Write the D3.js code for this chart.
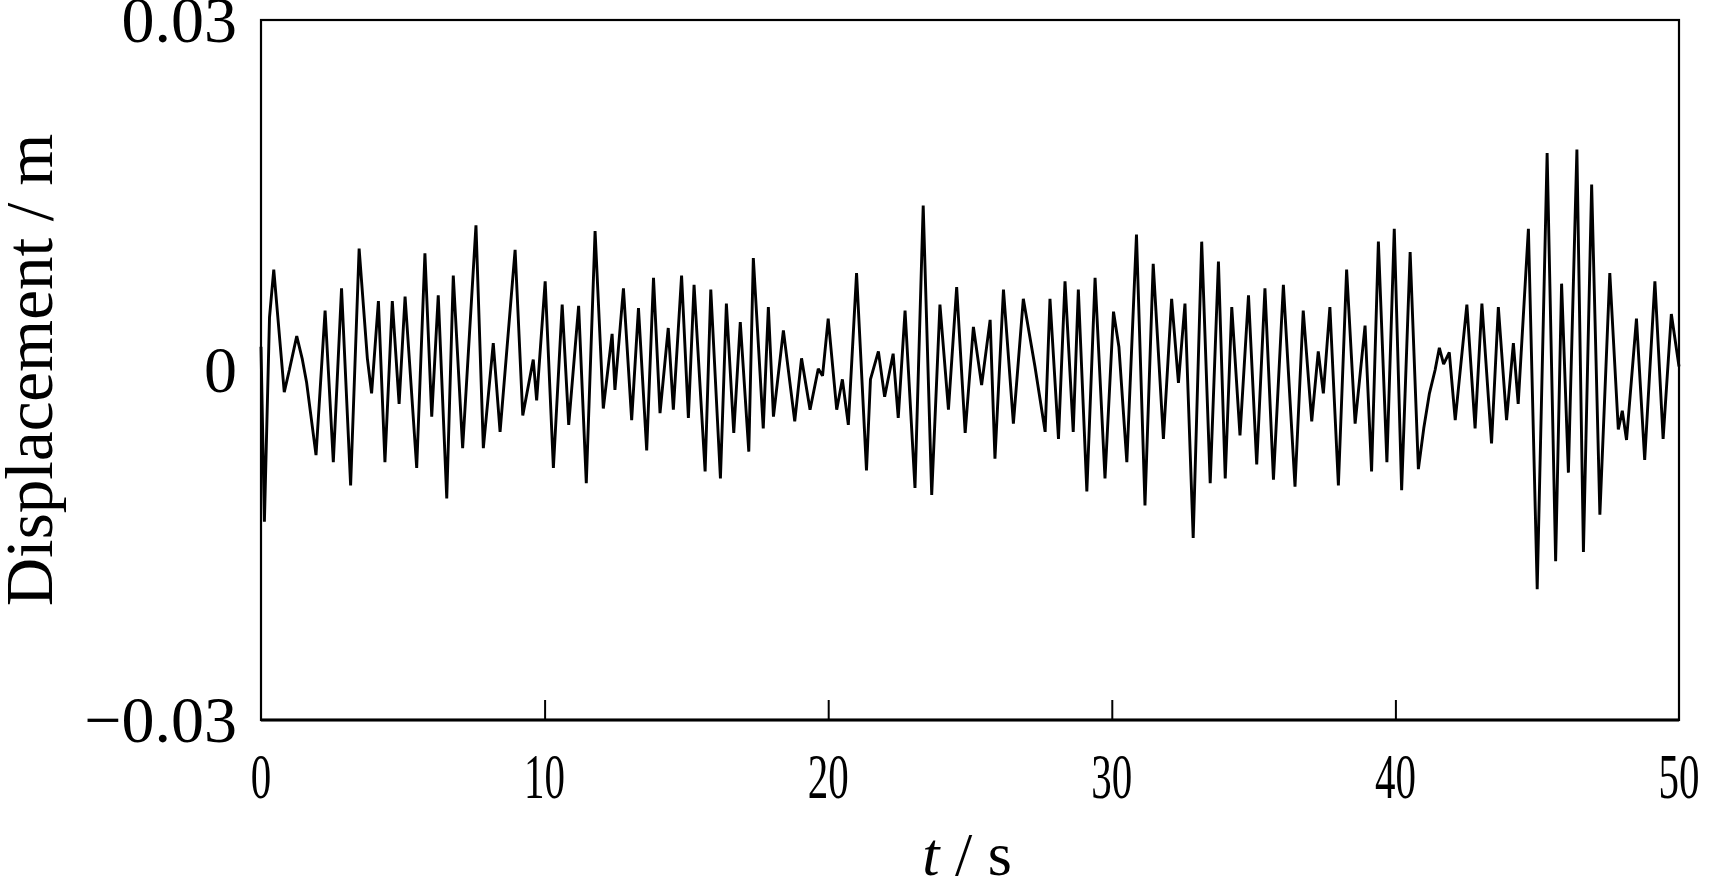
<!DOCTYPE html>
<html><head><meta charset="utf-8">
<script src="https://cdn.jsdelivr.net/npm/d3@7"></script>
<style>html,body{margin:0;padding:0;background:#fff;overflow:hidden}</style>
</head><body><svg id="chart" width="1715" height="879"></svg>
<script>
// time (s) of each read extremum / kink of the displacement trace
const timeS = [
 0.00,0.12,0.30,0.45,0.82,1.00,1.26,1.45,1.61,1.94,2.26,2.55,2.84,3.16,3.46,3.75,3.90,4.14,4.37,4.63,4.87,5.08,
 5.49,5.78,6.02,6.25,6.55,6.78,7.11,7.58,7.84,8.19,8.43,8.96,9.23,9.60,9.72,10.02,
 10.31,10.62,10.85,11.20,11.47,11.78,12.07,12.38,12.48,12.78,13.07,13.31,13.60,13.84,14.07,14.36,14.54,14.83,15.07,15.27,
 15.66,15.86,16.20,16.41,16.67,16.90,17.20,17.36,17.71,17.89,18.07,18.42,18.82,19.06,19.36,19.65,19.80,20.00,20.30,
 20.50,20.71,21.00,21.35,21.49,21.77,21.99,22.29,22.47,22.71,23.06,23.35,23.65,23.94,24.24,24.53,24.83,25.12,25.41,
 25.71,25.88,26.18,26.53,26.88,27.29,27.65,27.82,28.12,28.35,28.64,28.82,29.12,29.41,29.76,30.06,30.25,30.53,
 30.87,31.17,31.46,31.82,32.11,32.35,32.58,32.87,33.17,33.47,33.76,34.00,34.23,34.52,34.82,35.11,35.40,35.70,
 36.05,36.46,36.75,37.05,37.28,37.46,37.69,37.99,38.28,38.58,38.93,39.16,39.40,39.70,39.96,40.22,40.52,40.81,
 41.00,41.20,41.40,41.55,41.70,41.90,42.11,42.52,42.81,43.05,43.39,43.63,43.92,44.16,44.33,44.69,45.00,45.35,45.65,
 45.86,46.10,46.40,46.63,46.92,47.21,47.56,47.86,48.00,48.15,48.50,48.79,49.15,49.44,49.73,50.00
];
// displacement (m) at those times
const displacement = [
 0.0020,-0.0130,0.0045,0.0086,-0.0019,0.0000,0.0029,0.0010,-0.0011,-0.0073,0.0051,-0.0079,0.0070,-0.0099,0.0104,0.0010,-0.0020,0.0059,-0.0079,0.0059,-0.0029,0.0063,
 -0.0084,0.0100,-0.0040,0.0064,-0.0110,0.0081,-0.0067,0.0124,-0.0067,0.0023,-0.0053,0.0103,-0.0039,0.0009,-0.0026,0.0076,
 -0.0084,0.0056,-0.0047,0.0055,-0.0097,0.0119,-0.0033,0.0031,-0.0017,0.0070,-0.0043,0.0053,-0.0069,0.0079,-0.0037,0.0036,-0.0034,0.0081,-0.0041,0.0073,
 -0.0087,0.0069,-0.0093,0.0057,-0.0054,0.0041,-0.0070,0.0096,-0.0050,0.0054,-0.0040,0.0034,-0.0044,0.0010,-0.0034,0.0001,-0.0005,0.0044,-0.0034,
 -0.0008,-0.0047,0.0083,-0.0086,-0.0008,0.0016,-0.0023,0.0014,-0.0041,0.0051,-0.0101,0.0141,-0.0107,0.0056,-0.0034,0.0071,-0.0054,0.0037,-0.0013,
 0.0043,-0.0076,0.0069,-0.0046,0.0061,0.0003,-0.0053,0.0061,-0.0059,0.0076,-0.0053,0.0069,-0.0104,0.0079,-0.0093,0.0050,0.0020,-0.0079,
 0.0116,-0.0116,0.0091,-0.0059,0.0061,-0.0011,0.0057,-0.0144,0.0110,-0.0097,0.0093,-0.0093,0.0054,-0.0056,0.0064,-0.0081,0.0070,-0.0094,
 0.0073,-0.0100,0.0051,-0.0044,0.0016,-0.0020,0.0054,-0.0099,0.0086,-0.0046,0.0038,-0.0087,0.0110,-0.0079,0.0121,-0.0103,0.0101,-0.0085,
 -0.0050,-0.0020,0.0000,0.0019,0.0005,0.0015,-0.0043,0.0056,-0.0050,0.0057,-0.0063,0.0054,-0.0043,0.0023,-0.0029,0.0121,-0.0188,0.0186,-0.0164,
 0.0074,-0.0088,0.0189,-0.0156,0.0159,-0.0124,0.0083,-0.0051,-0.0035,-0.0060,0.0044,-0.0077,0.0076,-0.0059,0.0048,0.0003
];
const xTickValues = [0, 10, 20, 30, 40, 50];
const xTickLabels = ["0", "10", "20", "30", "40", "50"];
const yTickValues = [0.03, 0, -0.03];
const yTickLabels = ["0.03", "0", "\u22120.03"];
const xTitleItalic = "t";
const xTitleRest = " / s";
const yTitle = "Displacement / m";

const svg = d3.select("#chart");
svg.append("rect").attr("width", 1715).attr("height", 879).attr("fill", "#fff");

const x = d3.scaleLinear().domain([0, 50]).range([261, 1679]);
const y = d3.scaleLinear().domain([-0.03, 0.03]).range([720, 20]);
const font = "'Liberation Serif','Times New Roman',serif";

// signal
const data = timeS.map((t, i) => [t, displacement[i]]);
svg.append("path")
  .datum(data)
  .attr("fill", "none")
  .attr("stroke", "#000")
  .attr("stroke-width", 2.9)
  .attr("stroke-linejoin", "bevel")
  .attr("d", d3.line().x(d => x(d[0])).y(d => y(d[1])));

// x ticks (inside)
const xAxis = d3.axisBottom(x).tickValues(xTickValues.slice(1, -1)).tickSize(-20).tickFormat("");
const gx = svg.append("g").attr("transform", "translate(0,720)").call(xAxis);
gx.select(".domain").remove();
gx.selectAll(".tick line").attr("stroke", "#000").attr("stroke-width", 2);

// frame
svg.append("rect")
  .attr("x", x(0)).attr("y", y(0.03))
  .attr("width", x(50) - x(0)).attr("height", y(-0.03) - y(0.03))
  .attr("fill", "none").attr("stroke", "#000").attr("stroke-width", 2.2);
svg.append("line")
  .attr("x1", x(0)).attr("x2", x(50)).attr("y1", y(-0.03)).attr("y2", y(-0.03))
  .attr("stroke", "#000").attr("stroke-width", 3.2);

// x tick labels (condensed)
svg.append("g").selectAll("text").data(xTickValues).join("text")
  .attr("transform", d => `translate(${x(d)},798) scale(0.64,1)`)
  .attr("text-anchor", "middle")
  .attr("font-family", font).attr("font-size", 64)
  .text((d, i) => xTickLabels[i]);

// y tick labels
svg.append("g").selectAll("text").data(yTickValues).join("text")
  .attr("x", 237)
  .attr("y", d => y(d) + 22)
  .attr("text-anchor", "end")
  .attr("font-family", font).attr("font-size", 66)
  .text((d, i) => yTickLabels[i]);

// x title
const xt = svg.append("text")
  .attr("x", 967).attr("y", 875)
  .attr("text-anchor", "middle")
  .attr("font-family", font).attr("font-size", 62);
xt.append("tspan").attr("font-style", "italic").text(xTitleItalic);
xt.append("tspan").text(xTitleRest);

// y title
svg.append("text")
  .attr("transform", "translate(52,370) rotate(-90)")
  .attr("text-anchor", "middle")
  .attr("font-family", font).attr("font-size", 67)
  .text(yTitle);
</script>
</body></html>
